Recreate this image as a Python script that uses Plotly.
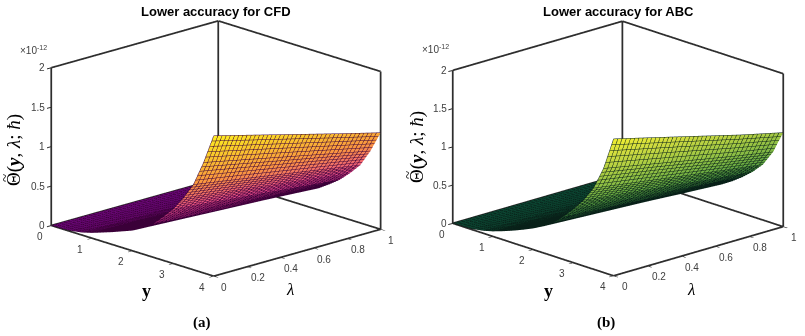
import math
import plotly.graph_objects as go

# axis values
y_vals = [0, 0.25, 0.5, 0.75, 1, 1.25, 1.5, 1.75, 2, 2.25, 2.5, 2.75, 3, 3.25, 3.5, 3.75, 4]
lam_vals = [0, 0.25, 0.5, 0.75, 1]

# surface heights in units of 1e-12, one row per lambda
z_cfd = [
    [0, .004, .015, .035, .070, .115, .160, .210, .260, .330, .420, .550, .690, .870, 1.080, 1.400, 1.780],
    [0, .004, .014, .032, .064, .106, .147, .193, .239, .304, .386, .506, .635, .800, .994, 1.288, 1.640],
    [0, .003, .013, .029, .059, .097, .134, .176, .218, .277, .353, .462, .580, .731, .907, 1.176, 1.500],
    [0, .003, .011, .027, .053, .087, .122, .160, .198, .251, .319, .418, .524, .661, .821, 1.064, 1.360],
    [0, .003, .010, .024, .048, .078, .109, .143, .177, .224, .286, .374, .469, .592, .734, .952, 1.224],
]
z_abc = [
    [0, .004, .015, .035, .070, .115, .165, .220, .280, .350, .440, .560, .700, .860, 1.060, 1.360, 1.790],
    [0, .004, .014, .032, .064, .106, .152, .202, .258, .322, .405, .515, .644, .791, .975, 1.251, 1.647],
    [0, .003, .013, .029, .059, .097, .139, .185, .235, .294, .370, .470, .588, .722, .890, 1.142, 1.504],
    [0, .003, .011, .027, .053, .087, .125, .167, .213, .266, .334, .426, .532, .654, .806, 1.034, 1.360],
    [0, .003, .010, .024, .048, .079, .113, .151, .192, .240, .302, .385, .481, .591, .728, .934, 1.230],
]

y_ticks = [0, 1, 2, 3, 4]
lam_ticks = [0, 0.2, 0.4, 0.6, 0.8, 1]
z_ticks = [0, 0.5, 1, 1.5, 2]

cmap_cfd = [[0, "#840a98"], [0.12, "#b01490"], [0.35, "#ea4c8c"], [0.6, "#fa9640"], [0.85, "#fad028"], [1, "#fff020"]]
cmap_abc = [[0, "#0e5a40"], [0.12, "#1a6c3c"], [0.35, "#4c9a40"], [0.6, "#90c044"], [0.85, "#d0dc40"], [1, "#f4f030"]]

W, H = 805, 336
EDGE = "#2e2e2e"
TICK = "#404040"


def box_edges():
    # back faces of the MATLAB box
    x0, x1 = y_ticks[0], y_ticks[-1]
    y0, y1 = lam_ticks[0], lam_ticks[-1]
    z0, z1 = z_ticks[0], z_ticks[-1]
    segs = [
        ((x0, y0, z0), (x1, y0, z0)), ((x1, y0, z0), (x1, y1, z0)),
        ((x0, y0, z0), (x0, y0, z1)), ((x1, y1, z0), (x1, y1, z1)),
        ((x0, y1, z0), (x0, y1, z1)), ((x0, y0, z1), (x0, y1, z1)),
        ((x0, y1, z1), (x1, y1, z1)), ((x0, y1, z0), (x0, y0, z0)),
        ((x0, y1, z0), (x1, y1, z0)),
    ]
    xs, ys, zs = [], [], []
    for a, b in segs:
        xs += [a[0], b[0], None]
        ys += [a[1], b[1], None]
        zs += [a[2], b[2], None]
    return xs, ys, zs


def camera(t_deg, phi_deg, r):
    t, p = math.radians(t_deg), math.radians(phi_deg)
    return dict(
        eye=dict(x=r * math.cos(p) * math.cos(t), y=-r * math.cos(p) * math.sin(t), z=r * math.sin(p)),
        center=dict(x=0, y=0, z=0),
        up=dict(x=0, y=0, z=1),
        projection=dict(type="orthographic"),
    )


def axis(vals):
    return dict(
        range=[vals[0], vals[-1]], tickvals=vals, showticklabels=False,
        showgrid=False, zeroline=False, showbackground=False, showline=False, showspikes=False,
        ticks="inside", ticklen=6, tickwidth=2, tickcolor=EDGE, title=dict(text=""),
    )


def tick_notes():
    font = dict(family="Liberation Sans", size=10, color=TICK)
    notes = []
    for v in y_ticks:
        notes.append(dict(x=v, y=lam_ticks[0], z=z_ticks[0], text=str(v), showarrow=False, font=font, xshift=-11, yshift=-11))
    for v in lam_ticks:
        notes.append(dict(x=y_ticks[-1], y=v, z=z_ticks[0], text=str(v), showarrow=False, font=font, xshift=11, yshift=-11))
    for v in z_ticks:
        notes.append(dict(x=y_ticks[0], y=lam_ticks[0], z=v, text=str(v), showarrow=False, font=font, xanchor="right", xshift=-4))
    return notes


fig = go.Figure()
xs, ys, zs = box_edges()
for scene, z, cmap, mesh in [("scene", z_cfd, cmap_cfd, "#3a0038"), ("scene2", z_abc, cmap_abc, "#082018")]:
    fig.add_trace(go.Surface(
        x=y_vals, y=lam_vals, z=z, scene=scene, colorscale=cmap, cmin=0, cmax=1.8, showscale=False,
        lighting=dict(ambient=1, diffuse=0, specular=0, roughness=1, fresnel=0),
        contours=dict(
            x=dict(show=True, start=0, end=4, size=0.05, color=mesh, width=1),
            y=dict(show=True, start=0, end=1, size=0.025, color=mesh, width=1),
        ),
    ))
    fig.add_trace(go.Scatter3d(x=xs, y=ys, z=zs, scene=scene, mode="lines",
                               line=dict(color=EDGE, width=3.5), showlegend=False, hoverinfo="skip"))

common = dict(
    xaxis=axis(y_ticks),
    yaxis=axis(lam_ticks),
    zaxis=axis(z_ticks),
    aspectmode="manual",
    annotations=tick_notes(),
)
fig.update_layout(
    width=W, height=H, margin=dict(l=0, r=0, t=0, b=0), paper_bgcolor="white", showlegend=False,
    scene=dict(domain=dict(x=[30.5 / W, 400.5 / W], y=[(H - 296) / H, 1 - 1 / H]), camera=camera(43.5, 17.2, 1.26),
               aspectratio=dict(x=1.6, y=1.56, z=1.12), **common),
    scene2=dict(domain=dict(x=[433 / W, 803 / W], y=[(H - 296) / H, 1 - 1 / H]), camera=camera(43.3, 17.9, 1.26),
                aspectratio=dict(x=1.59, y=1.58, z=1.09), **common),
)


def note(x, y, text, size, family="Liberation Sans", angle=0, color="black"):
    fig.add_annotation(x=x / W, y=1 - y / H, xref="paper", yref="paper", text=text, showarrow=False,
                       font=dict(family=family, size=size, color=color), textangle=angle,
                       xanchor="center", yanchor="middle")


SERIF = "Liberation Serif"
note(216, 12, "<b>Lower accuracy for CFD</b>", 13)
note(618, 12, "<b>Lower accuracy for ABC</b>", 13)
note(33, 50, "×10<sup>-12</sup>", 10, color=TICK)
note(435, 49, "×10<sup>-12</sup>", 10, color=TICK)
note(14, 150, "Θ(<b><i>y</i></b>, <i>λ</i>; <i>ħ</i>)", 19, SERIF, -90)
note(417, 147, "Θ(<b><i>y</i></b>, <i>λ</i>; <i>ħ</i>)", 19, SERIF, -90)
note(5, 178, "~", 15, SERIF, -90)
note(408, 175, "~", 15, SERIF, -90)
note(146, 291, "<b>y</b>", 18, SERIF)
note(548, 291, "<b>y</b>", 18, SERIF)
note(290, 289, "<i>λ</i>", 17, SERIF)
note(691, 289, "<i>λ</i>", 17, SERIF)
note(202, 322, "<b>(a)</b>", 15, SERIF)
note(606, 322, "<b>(b)</b>", 15, SERIF)

# page body has a default 8px margin
fig.write_html("out.html", config=dict(displayModeBar=False), post_script="document.body.style.margin='0';")
